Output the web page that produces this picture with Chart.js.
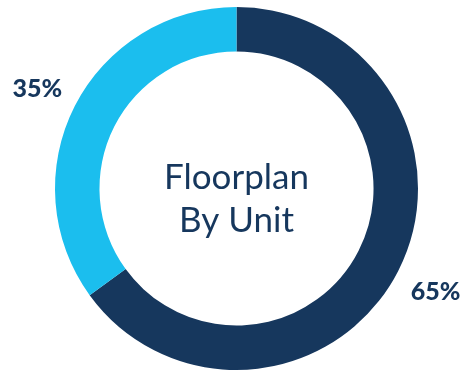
<!DOCTYPE html>
<html>
<head>
<meta charset="utf-8">
<script src="https://cdn.jsdelivr.net/npm/chart.js@4.4.0/dist/chart.umd.min.js"></script>
<style>
html, body { margin:0; padding:0; background:#fff; }
#wrap { position:relative; width:464px; height:372px; }
</style>
</head>
<body>
<div id="wrap"><canvas id="c" width="464" height="372"></canvas></div>
<script>
const labels = ['Floorplan A', 'Floorplan B'];
const values = [65, 35];
const colors = ['#16375d', '#1bbeee'];
const centerLines = ['Floorplan', 'By Unit'];

const navy = '#16375d';

// percentage labels outside the ring + center title
const outerText = {
	id: 'outerText',
	afterDraw: chart => {
		const ctx = chart.ctx;
		const meta = chart.getDatasetMeta(0);
		const total = values.reduce((s, v) => s + v, 0);
		ctx.save();
		ctx.fillStyle = navy;
		ctx.textAlign = 'center';
		ctx.textBaseline = 'middle';
		ctx.font = '900 25px Lato';
		meta.data.forEach((arc, i) => {
			const p = arc.getProps(['x', 'y', 'startAngle', 'endAngle', 'outerRadius']);
			const mid = (p.startAngle + p.endAngle) / 2;
			const r = p.outerRadius + 42;
			const t = Math.round(values[i] / total * 100) + '%';
			ctx.fillText(t, p.x + Math.cos(mid) * r, p.y + Math.sin(mid) * r + 2);
		});
		const a = meta.data[0];
		ctx.font = '35px Lato';
		ctx.textBaseline = 'alphabetic';
		ctx.fillText(centerLines[0], a.x, a.y);
		ctx.fillText(centerLines[1], a.x, a.y + 43);
		ctx.restore();
	}
};

new Chart(document.getElementById('c'), {
	type: 'doughnut',
	data: {
		labels: labels,
		datasets: [{
			data: values,
			backgroundColor: colors,
			borderWidth: 0,
		}]
	},
	options: {
		responsive: false,
		animation: false,
		cutout: '75.5%',
		layout: { padding: { top: 7, bottom: 2, left: 55, right: 46 } },
		plugins: {
			legend: { display: false },
			tooltip: { enabled: false },
		}
	},
	plugins: [outerText]
});
</script>
</body>
</html>
